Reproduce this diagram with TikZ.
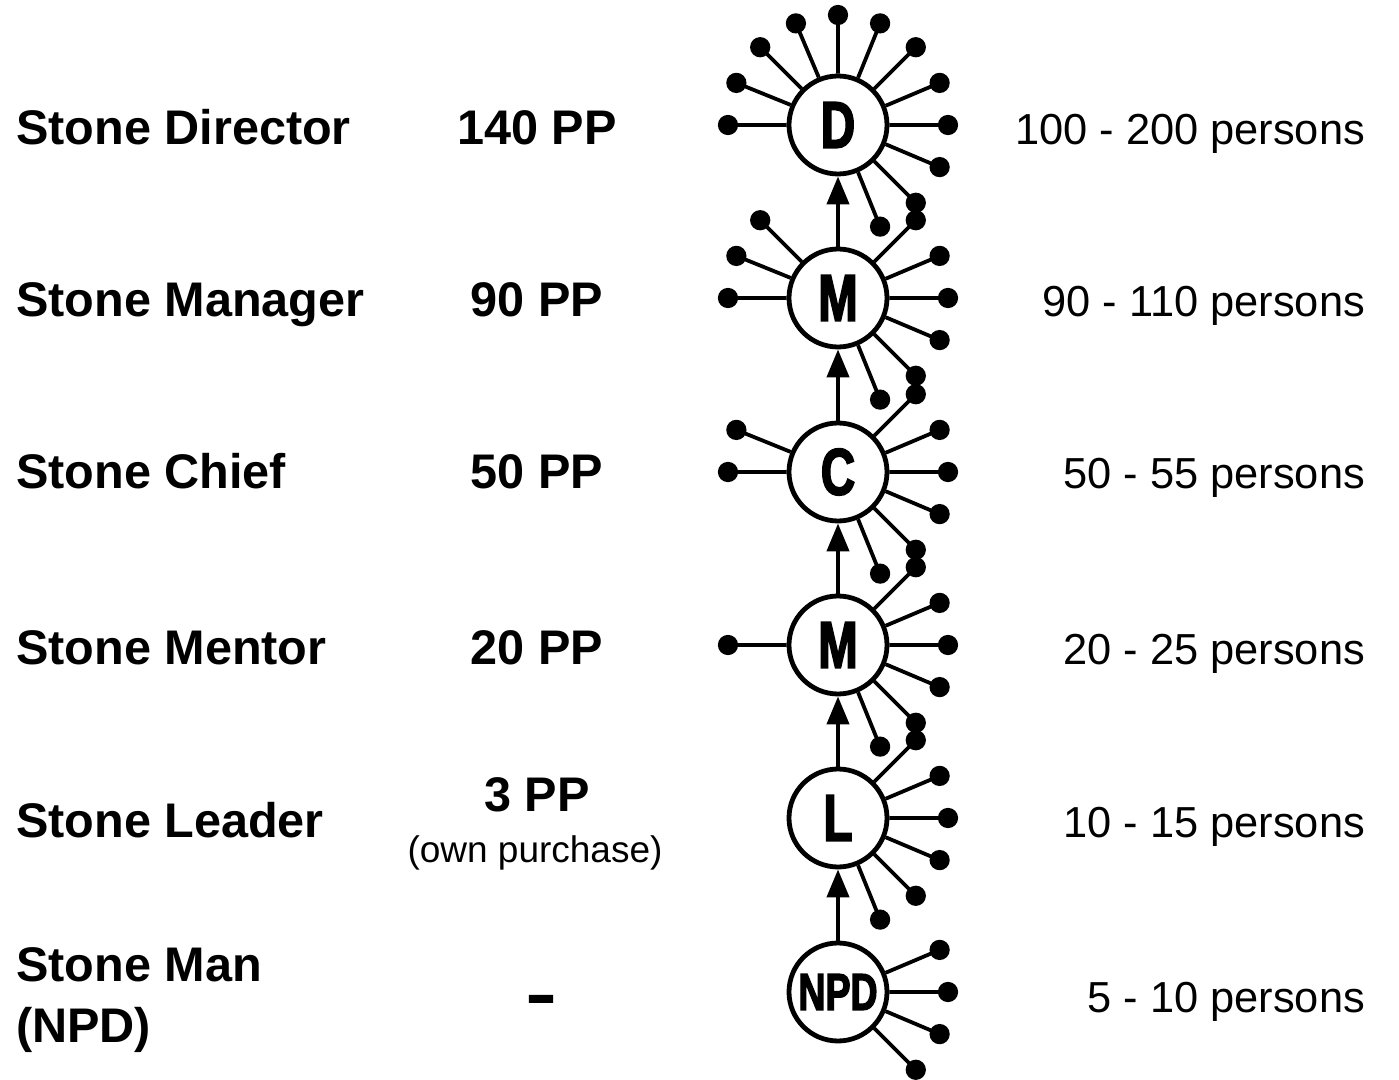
\documentclass[tikz,border=0pt]{standalone}
\usepackage{fontspec}
\setmainfont{Liberation Sans}
\newfontfamily\rankfont[FakeStretch=0.72, FakeBold=2.5]{Liberation Sans Bold}
\usetikzlibrary{calc,arrows.meta}

\tikzset{
  rank/.style={circle, draw, line width=2.4pt, minimum size=49pt, inner sep=0pt,
    font=\rankfont\fontsize{33}{33}\selectfont},
  spoke/.style={line width=1.9pt},
  up/.style={line width=2.1pt, -{Triangle[length=14pt, width=11pt]}},
  rolename/.style={anchor=base west, font=\bfseries\fontsize{24.3}{29}\selectfont},
  points/.style={anchor=base, font=\bfseries\fontsize{24.3}{29}\selectfont},
  headcount/.style={anchor=base east, font=\fontsize{21.7}{26}\selectfont}
}

\begin{document}
\begin{tikzpicture}[x=0.5pt, y=-0.5pt]
      \useasboundingbox (0,0) rectangle (1399,1080);
      \node[rank] (dir) at (838, 125) {D};
      \node[rank] (man) at (838, 298) {M};
      \node[rank] (chi) at (838, 472) {C};
      \node[rank] (men) at (838, 645) {M};
      \node[rank] (lea) at (838, 818) {L};
      \node[rank, font=\rankfont\fontsize{26}{26}\selectfont] (npd) at (838, 992) {NPD};
      \foreach \a in {-67.5,-45,...,180} \draw[spoke] (dir.\a) -- ($(dir.center)+(\a:55pt)$) circle (4.1pt) [fill];
      \foreach \a in {-67.5,-45,...,45,135,157.5,180} \draw[spoke] (man.\a) -- ($(man.center)+(\a:55pt)$) circle (4.1pt) [fill];
      \foreach \a in {-67.5,-45,...,45,157.5,180} \draw[spoke] (chi.\a) -- ($(chi.center)+(\a:55pt)$) circle (4.1pt) [fill];
      \foreach \a in {-67.5,-45,...,45,180} \draw[spoke] (men.\a) -- ($(men.center)+(\a:55pt)$) circle (4.1pt) [fill];
      \foreach \a in {-67.5,-45,...,45} \draw[spoke] (lea.\a) -- ($(lea.center)+(\a:55pt)$) circle (4.1pt) [fill];
      \foreach \a in {-45,-22.5,...,22.5} \draw[spoke] (npd.\a) -- ($(npd.center)+(\a:55pt)$) circle (4.1pt) [fill];
      \draw[up] (npd) -- (lea);
      \draw[up] (lea) -- (men);
      \draw[up] (men) -- (chi);
      \draw[up] (chi) -- (man);
      \draw[up] (man) -- (dir);
      \node[rolename] (t1) at (9, 145) {Stone Director};
      \node[rolename] (t2) at (9, 317) {Stone Manager};
      \node[rolename] (t3) at (9, 489) {Stone Chief};
      \node[rolename] (t4) at (9, 665) {Stone Mentor};
      \node[rolename] (t5) at (9, 837) {Stone Leader};
      \node[rolename] (t6) at (9, 981) {Stone Man};
      \node[rolename] (t7) at (9, 1042) {(NPD)};
      \node[points] (p1) at (537, 145) {140 PP};
      \node[points] (p2) at (537, 317) {90 PP};
      \node[points] (p3) at (537, 489) {50 PP};
      \node[points] (p4) at (537, 665) {20 PP};
      \node[points] (p5) at (537, 812) {3 PP};
      \node[points, font=\fontsize{18.5}{22}\selectfont] (p6) at (535, 862) {(own purchase)};
      \node[points, font=\rankfont\fontsize{32}{32}\selectfont] (p7) at (541, 1016) {–};
      \node[headcount] (h1) at (1372, 145) {100 - 200 persons};
      \node[headcount] (h2) at (1372, 317) {90 - 110 persons};
      \node[headcount] (h3) at (1372, 489) {50 - 55 persons};
      \node[headcount] (h4) at (1372, 665) {20 - 25 persons};
      \node[headcount] (h5) at (1372, 837) {10 - 15 persons};
      \node[headcount] (h6) at (1372, 1012) {5 - 10 persons};
    \end{tikzpicture}
\end{document}
